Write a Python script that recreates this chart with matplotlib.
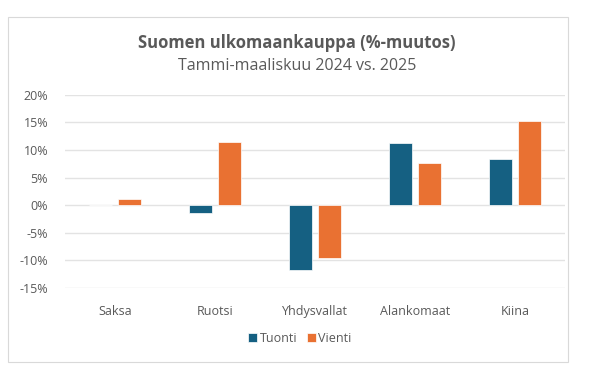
import numpy as np
import matplotlib.pyplot as plt
from matplotlib.patches import Rectangle
from matplotlib.ticker import FuncFormatter

categories = ['Saksa', 'Ruotsi', 'Yhdysvallat', 'Alankomaat', 'Kiina']
tuonti = [0.05, -1.45, -11.7, 11.2, 8.4]
vienti = [1.2, 11.4, -9.6, 7.6, 15.3]
series_names = ['Tuonti', 'Vienti']
colors = ['#156082', '#E97132']

plt.rcParams['font.family'] = ['Open Sans', 'DejaVu Sans']
text_color = '#595959'

fig = plt.figure(figsize=(6, 3.72), dpi=100)
fig.patches.append(Rectangle((8 / 600, 10 / 372), 560 / 600, 345 / 372,
                             transform=fig.transFigure, fill=False,
                             edgecolor='#d9d9d9', linewidth=0.8))

ax = fig.add_axes([0.108, 0.226, 0.834, 0.519])
x = np.arange(len(categories))
w = 0.23
gap = 0.06
ax.bar(x - (w + gap) / 2, tuonti, w, color=colors[0], edgecolor='white',
       linewidth=0.5, label=series_names[0], zorder=3)
ax.bar(x + (w + gap) / 2, vienti, w, color=colors[1], edgecolor='white',
       linewidth=0.5, label=series_names[1], zorder=3)

ax.set_ylim(-15, 20)
ax.set_yticks(np.arange(-15, 21, 5))
ax.yaxis.set_major_formatter(FuncFormatter(lambda v, p: f'{int(v)}%'))
ax.set_xlim(-0.5, len(categories) - 0.5)
ax.set_xticks(x)
ax.set_xticklabels(categories)
ax.grid(axis='y', color='#e3e3e3', linewidth=1, zorder=0)
for s in ax.spines.values():
    s.set_visible(False)
ax.tick_params(length=0, colors=text_color, labelsize=9)
ax.tick_params(axis='x', pad=12)
ax.tick_params(axis='y', pad=12)

fig.text(0.495, 0.885, 'Suomen ulkomaankauppa (%-muutos)', ha='center', va='center',
         fontsize=12, fontweight='bold', color=text_color)
fig.text(0.495, 0.822, 'Tammi-maaliskuu 2024 vs. 2025', ha='center', va='center',
         fontsize=11.5, color=text_color)

fig.legend(loc='center', bbox_to_anchor=(0.5, 0.09), ncol=2, frameon=False,
           fontsize=9, labelcolor=text_color, handlelength=0.7, handleheight=0.7,
           handletextpad=0.2, columnspacing=0.8)

fig.savefig('out.png', dpi=100)
